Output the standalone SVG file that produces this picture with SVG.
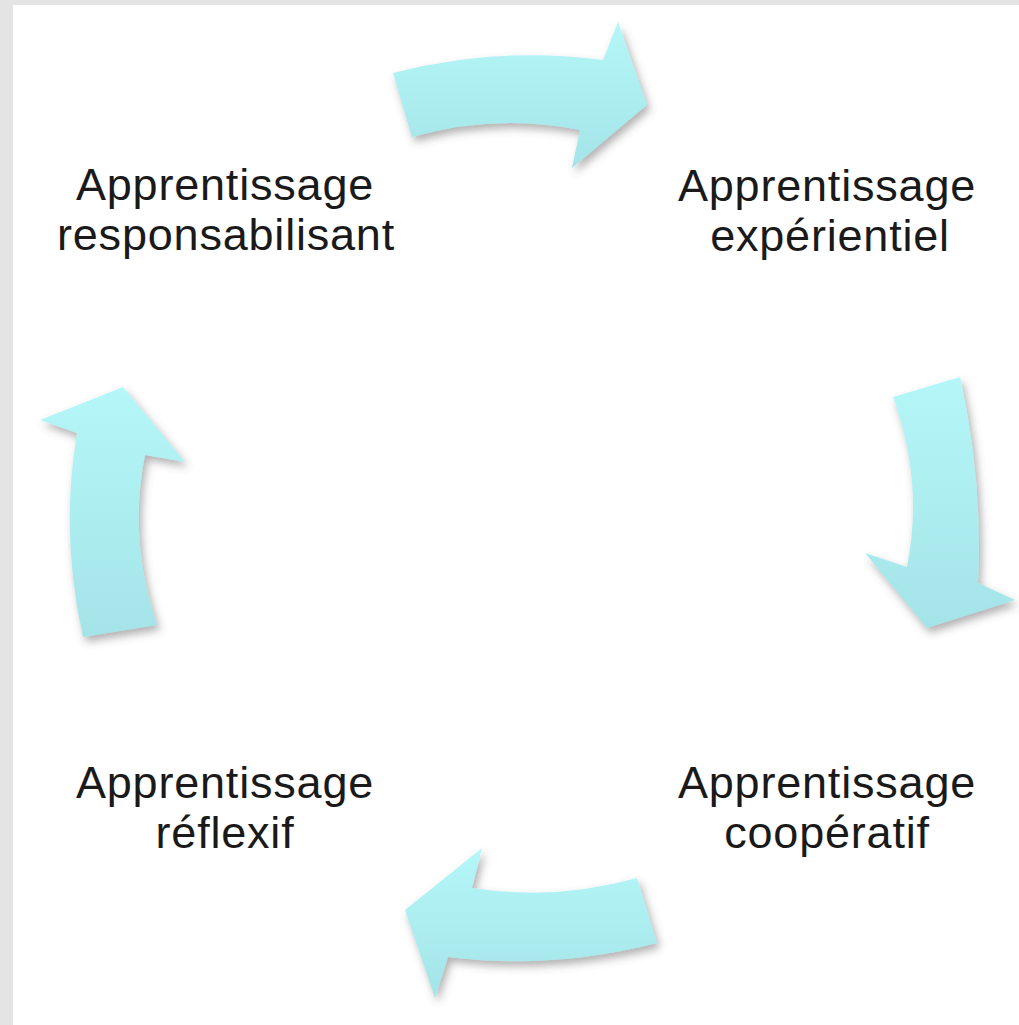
<svg xmlns="http://www.w3.org/2000/svg" width="1019" height="1025" viewBox="0 0 1019 1025">
<style>
.lbl{font-family:"Liberation Sans",Arial,sans-serif;font-size:45px;letter-spacing:0.8px;fill:#1a1a1a;text-anchor:middle}
.arr{fill:url(#cyan);filter:url(#sh)}
</style>
<defs>
<linearGradient id="cyan" x1="0" y1="0" x2="0" y2="1">
<stop offset="0" stop-color="#b5f7f9"/>
<stop offset="1" stop-color="#a4e4e8"/>
</linearGradient>
<filter id="sh" x="-20%" y="-20%" width="140%" height="140%">
<feDropShadow dx="3" dy="5" stdDeviation="4" flood-color="#555" flood-opacity="0.45"/>
</filter>
</defs>
<rect x="0" y="0" width="1019" height="1025" fill="#e4e4e4"/>
<rect x="13" y="5" width="1006" height="1020" fill="#ffffff"/>
<g id="connectors">
<path class="arr" d="M393,73 Q498,46 603,60 L618,22 L647,105 L572,168 L580,130 Q496,113 412,137 Z"/>
<path class="arr" d="M893,397 L960,377 Q983,480 978,583 L1015,600 L927,628 L865,553 L907,567 Q924,482 893,397 Z"/>
<path class="arr" d="M637,878 Q555,901 472,888 L482,848 L405,910 L435,998 L448,957 Q552,970 657,943 Z"/>
<path class="arr" d="M157,625 Q128,540 145,455 L185,462 L123,387 L40,420 L77,433 Q60,535 83,637 Z"/>
</g>
<g id="node-responsabilisant">
<text class="lbl" x="225" y="200">Apprentissage</text>
<text class="lbl" x="226" y="250">responsabilisant</text>
</g>
<g id="node-experientiel">
<text class="lbl" x="827" y="201">Apprentissage</text>
<text class="lbl" x="830" y="251">expérientiel</text>
</g>
<g id="node-cooperatif">
<text class="lbl" x="827" y="798">Apprentissage</text>
<text class="lbl" x="827" y="848">coopératif</text>
</g>
<g id="node-reflexif">
<text class="lbl" x="225" y="798">Apprentissage</text>
<text class="lbl" x="225" y="848">réflexif</text>
</g>
</svg>
